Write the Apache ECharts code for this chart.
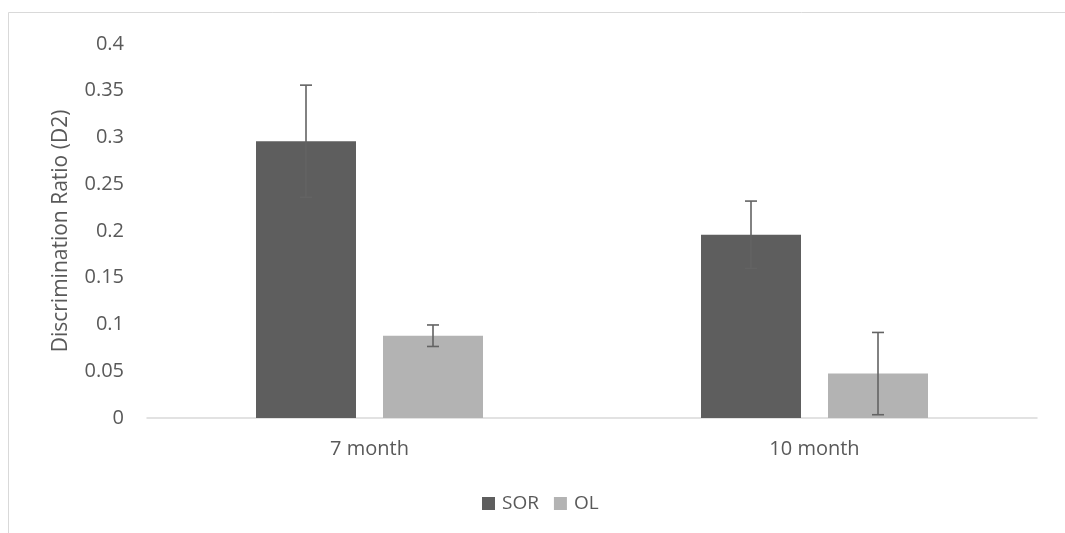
<!DOCTYPE html>
<html>
<head>
<meta charset="utf-8">
<script src="https://cdn.jsdelivr.net/npm/echarts@6/dist/echarts.min.js"></script>
<style>html,body{margin:0;padding:0;background:#fff}#c{width:1065px;height:533px}</style>
</head>
<body>
<div id="c"></div>
<script>
var categories = ['7 month', '10 month'];
var sorValues = [0.296, 0.196];
var olValues = [0.088, 0.0475];
var sorErr = [0.06, 0.036];
var olErr = [0.0115, 0.044];
var seriesNames = ['SOR', 'OL'];

var BAR_W = 100, GAP_PCT = 27;
var FONT = '"Open Sans", sans-serif';
var TXT = '#595959';

function errSeries(values, errs, idx) {
  var data = values.map(function (v, i) { return [i, v - errs[i], v + errs[i]]; });
  var offset = (idx === 0 ? -1 : 1) * (BAR_W + BAR_W * GAP_PCT / 100) / 2;
  return {
    type: 'custom',
    z: 5,
    silent: true,
    encode: { x: 0, y: [1, 2] },
    data: data,
    renderItem: function (params, api) {
      var lo = api.coord([api.value(0), api.value(1)]);
      var hi = api.coord([api.value(0), api.value(2)]);
      var x = lo[0] + offset;
      var cap = 6;
      var st = { stroke: '#636363', lineWidth: 1.6 };
      return {
        type: 'group',
        children: [
          { type: 'line', shape: { x1: x, y1: hi[1], x2: x, y2: lo[1] }, style: st },
          { type: 'line', shape: { x1: x - cap, y1: hi[1], x2: x + cap, y2: hi[1] }, style: st },
          { type: 'line', shape: { x1: x - cap, y1: lo[1], x2: x + cap, y2: lo[1] }, style: st }
        ]
      };
    }
  };
}

var chart = echarts.init(document.getElementById('c'), null, { renderer: 'canvas' });
chart.setOption({
  backgroundColor: '#fff',
  animation: false,
  textStyle: { fontFamily: FONT, color: TXT },
  graphic: [{
    type: 'rect', silent: true, z: -1,
    shape: { x: 8.5, y: 12.5, width: 1200, height: 700 },
    style: { fill: 'none', stroke: '#d9d9d9', lineWidth: 1 }
  }],
  grid: { left: 147, right: 28, top: 44, bottom: 115 },
  legend: {
    data: seriesNames,
    left: 477, top: 489,
    itemWidth: 13, itemHeight: 13, itemGap: 15,
    icon: 'rect',
    textStyle: { fontFamily: FONT, fontSize: 19, color: TXT, padding: [0, 0, 0, 2] }
  },
  xAxis: {
    type: 'category',
    data: categories,
    axisLine: { lineStyle: { color: '#d9d9d9', width: 1.5 } },
    axisTick: { show: false },
    axisLabel: { fontFamily: FONT, fontSize: 20, color: TXT, margin: 21 }
  },
  yAxis: {
    type: 'value',
    min: 0, max: 0.4, interval: 0.05,
    name: 'Discrimination Ratio (D2)',
    nameLocation: 'middle',
    nameGap: 75,
    nameRotate: 90,
    nameTextStyle: { fontFamily: FONT, fontSize: 21, color: TXT },
    axisLine: { show: false },
    axisTick: { show: false },
    splitLine: { show: false },
    axisLabel: { fontFamily: FONT, fontSize: 20, color: TXT, margin: 23,
      formatter: function (v) { return String(Math.round(v * 100) / 100); } }
  },
  series: [
    { name: seriesNames[0], type: 'bar', data: sorValues, barWidth: BAR_W, barGap: GAP_PCT + '%',
      itemStyle: { color: '#5e5e5e' } },
    { name: seriesNames[1], type: 'bar', data: olValues, barWidth: BAR_W, barGap: GAP_PCT + '%',
      itemStyle: { color: '#b3b3b3' } },
    errSeries(sorValues, sorErr, 0),
    errSeries(olValues, olErr, 1)
  ]
});
</script>
</body>
</html>
